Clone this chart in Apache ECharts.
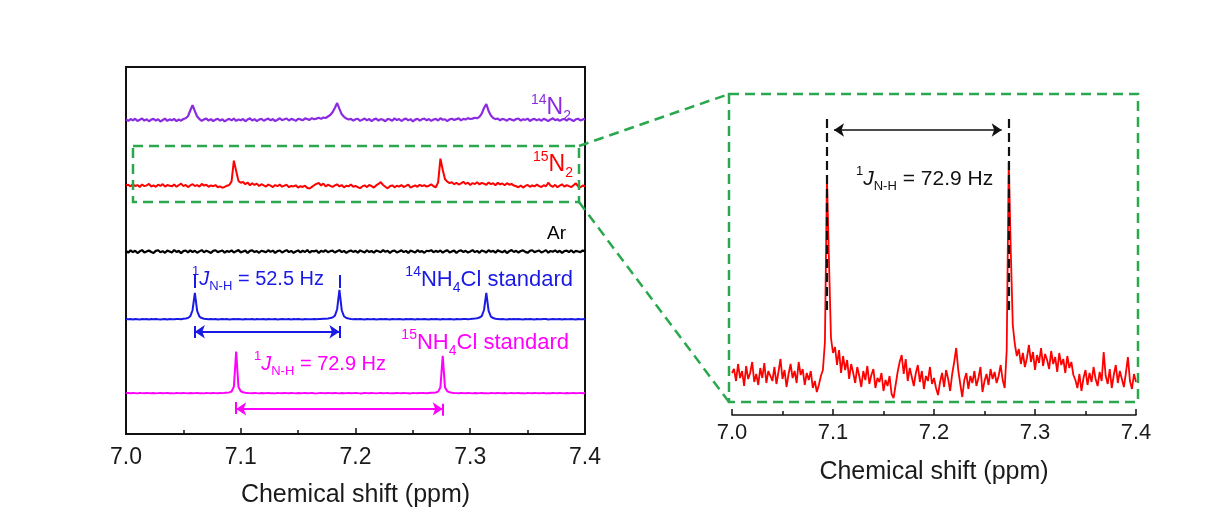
<!DOCTYPE html>
<html>
<head>
<meta charset="utf-8">
<script src="https://cdn.jsdelivr.net/npm/echarts@6/dist/echarts.min.js"></script>
<style>
  html, body { margin: 0; padding: 0; background: #ffffff; }
  #chart { width: 1206px; height: 515px; }
</style>
</head>
<body>
<div id="chart"></div>
<script>
// ---- axis ticks (chemical shift, ppm) ----
const shiftTicks = [7.0, 7.1, 7.2, 7.3, 7.4];
const ppmStep = 0.002;           // spacing of the stored spectrum points

// ---- 1H NMR traces, one value per ppmStep from 7.000 to 7.400 ppm (a.u.) ----
const spec14N2 = [
  4, -6, 8, -3, 10, -8, 2, 12, -5, 6,
  -10, 3, 9, -4, 7, -12, 0, 11, -7, 5,
  -2, 9, -9, 4, -5, 8, 14, 30, 75, 118,
  70, 28, 8, -6, 5, 11, -4, 7, -9, 3,
  10, -5, 6, -11, 2, 9, -3, 12, -7, 4,
  -2, 8, -10, 5, 13, -4, 7, -8, 3, 10,
  -6, 4, 11, -3, 8, -9, 2, 14, -1, 6,
  12, -4, 9, 3, -7, 10, 5, -2, 13, 7,
  1, 15, 6, 11, 18, 9, 20, 16, 28, 40,
  62, 95, 134, 88, 45, 25, 12, 4, 9, -5,
  6, 10, -7, 3, 12, -2, 8, -9, 5, 11,
  -4, 7, 2, -10, 9, 4, -6, 13, 0, 8,
  -8, 5, 11, -3, 7, -11, 3, 10, -5, 6,
  12, -2, 8, -7, 4, 9, -4, 14, 2, 6,
  -9, 5, 10, 1, 7, 13, -3, 9, 4, 15,
  8, 11, 18, 14, 25, 50, 95, 126, 72, 35,
  16, 7, 12, -2, 9, 4, -6, 10, 3, -4,
  8, 12, -5, 6, 1, 11, -8, 4, 9, -3,
  7, -6, 10, 2, -9, 5, 13, -1, 6, -7,
  4, 9, -4, 11, 2, -8, 6, 10, -3, 5,
  7
];

const spec15N2 = [
  27, 31, 19, 36, 22, 29, 14, 34, 21, 27,
  38, 18, 26, 15, 32, 22, 37, 17, 29, 24,
  19, 33, 16, 28, 41, 21, 30, 13, 26, 36,
  22, 29, 17, 38, 25, 31, 15, 27, 20, 29,
  12, 19, 8, 15, 24, 30, 58, 222, 140, 62,
  47, 53, 35, 50, 27, 44, 30, 40, 21, 36,
  27, 17, 33, 24, 13, 29, 20, 34, 16, 25,
  31, 12, 22, 18, 27, 9, 20, 14, 24, 6,
  2, 15, 28, 38, 45, 26, 41, 19, 32, 23,
  14, 27, 35, 18, 29, 11, 24, 19, 33, 16,
  22, 12, 5, 18, 27, 13, 30, 21, 9, 26,
  38, 52, 30, 16, 3, 20, 27, 11, 24, 17,
  29, 14, 22, 33, 8, 19, 26, 15, 31, 21,
  28, 17, 24, 35, 20, 12, 50, 238, 150, 75,
  56, 44, 51, 36, 47, 33, 42, 55, 38, 48,
  30, 45, 37, 52, 34, 46, 40, 31, 49, 36,
  43, 28, 47, 35, 41, 27, 44, 32, 38, 25,
  20, 12, 26, 9, 22, 30, 15, 27, 18, 33,
  21, 14, 28, 19, 48, 24, 16, 31, 12, 25,
  35, 17, 29, 21, 13, 27, 43, 19, 11, 26,
  18
];

const specAr = [
  5, -8, 10, -4, 7, -11, 3, 12, -6, 2,
  9, -3, -10, 6, 11, -5, 4, -9, 8, 1,
  -7, 13, -2, 6, -12, 4, 9, -6, 10, -3,
  7, -9, 2, 12, -5, 8, -1, -10, 6, 11,
  -4, 3, 9, -8, 5, -2, 10, -7, 4, 12,
  -6, 1, 8, -11, 6, 10, -3, 5, -9, 7,
  2, -5, 11, -2, 8, -10, 4, 9, -7, 3,
  12, -4, 6, -9, 1, 10, -6, 7, -3, 13,
  -8, 5, 2, 9, -11, 6, -1, 11, -5, 4,
  8, -7, 3, 12, -4, 6, -10, 2, 9, -2,
  7, -9, 10, 1, -6, 11, -3, 5, -8, 8,
  3, -5, 12, -1, 7, -10, 4, 9, -6, 2,
  10, -4, 6, -11, 8, 1, -7, 11, -2, 5,
  -9, 7, 3, 12, -5, 6, -2, 9, -8, 4,
  11, -6, 2, 8, -10, 5, 10, -3, 7, -7,
  1, 12, -4, 6, -9, 9, 3, -6, 11, -1,
  6, -8, 10, 2, -5, 8, -11, 4, 12, -3,
  7, -7, 5, 10, -2, -9, 6, 11, -4, 3,
  9, -6, 2, 12, -8, 5, -1, 10, -5, 7,
  -10, 4, 8, -3, 11, -7, 6, 1, -4, 9,
  2
];

const spec14NH4Cl = [
  2, 0, 3, -1, 2, 1, -2, 3, 0, 2,
  -1, 2, 1, 3, 0, -2, 1, 2, -1, 3,
  1, 0, 2, 3, 1, 4, 6, 10, 24, 72,
  210, 66, 22, 10, 5, 3, 1, 2, 0, 2,
  -1, 1, 3, 0, 2, -1, 1, 2, 0, 3,
  1, -2, 2, 1, 0, 3, -1, 2, 1, 0,
  2, -1, 3, 1, 0, 2, -2, 1, 3, 0,
  1, 2, -1, 2, 0, 3, 1, -1, 2, 1,
  1, 0, 2, 1, 3, 2, 4, 5, 7, 10,
  14, 28, 80, 232, 72, 24, 11, 6, 3, 1,
  2, 0, 3, 1, -1, 2, 1, 0, 2, -1,
  1, 3, 0, 2, 1, -2, 2, 1, 0, 3,
  1, -1, 2, 0, 3, 1, -1, 2, 1, 0,
  2, 1, -1, 3, 0, 2, 1, -2, 2, 1,
  0, 3, 1, -1, 2, 1, 0, 2, 3, 1,
  2, 4, 6, 9, 14, 26, 74, 210, 66, 22,
  10, 5, 3, 1, 2, 0, -1, 2, 1, 3,
  0, 2, 1, -1, 2, 0, 3, 1, -2, 2,
  1, 0, 2, 3, -1, 1, 2, 0, 1, 3,
  -1, 2, 0, 1, 3, 1, -2, 2, 0, 1,
  2
];

const spec15NH4Cl = [
  1, 2, 0, 2, 1, -1, 2, 1, 0, 2,
  1, 0, 2, -1, 1, 2, 0, 1, 2, 0,
  1, -1, 2, 1, 0, 2, 1, -1, 2, 0,
  1, 2, 0, 1, -1, 2, 1, 0, 2, 1,
  0, 2, 1, 3, 4, 7, 14, 52, 330, 50,
  16, 8, 4, 2, 1, 0, 2, 1, -1, 2,
  0, 1, 2, 0, 1, -1, 2, 1, 0, 2,
  1, 0, 2, 1, -1, 2, 0, 1, 2, 0,
  1, 2, 0, -1, 1, 2, 1, 0, 2, 1,
  0, 2, 1, -1, 2, 0, 1, 2, 0, 1,
  2, 1, -1, 0, 2, 1, 0, 2, 1, -1,
  1, 2, 0, 1, 2, -1, 1, 0, 2, 1,
  0, 2, 1, 0, -1, 2, 1, 0, 2, 1,
  1, 0, 2, 3, 4, 6, 13, 48, 295, 46,
  15, 8, 4, 2, 1, 0, 2, 1, 0, 2,
  1, -1, 2, 0, 1, 2, 0, 1, -1, 2,
  1, 0, 2, 1, 0, 2, -1, 1, 2, 0,
  1, 2, 0, 1, -1, 2, 1, 0, 2, 1,
  0, 1, 2, -1, 1, 0, 2, 1, 0, 2,
  1, -1, 2, 0, 1, 2, 0, 1, 2, 0,
  1
];

// ---- peak positions (ppm) used by the coupling annotations ----
const peaks14NH4Cl = [7.060, 7.186, 7.314];
const peaks15NH4Cl = [7.096, 7.276];
const peaks15N2 = [7.094, 7.274];
const couplingLabels = ['52.5 Hz', '72.9 Hz'];

// ---- layout ----
const FONT = "'Liberation Sans', Arial, Helvetica, sans-serif";
const C = {
  n14N2: '#8a2be2', n15N2: '#ff0000', ar: '#000000',
  nh14: '#1a1ae6', nh15: '#ff00ff', green: '#2aa84e', axis: '#111111'
};
const LEFT = { left: 126, top: 67, width: 459, height: 367 };
const RIGHT = { left: 732, top: 94, width: 404, height: 321 };
const leftRange = [0, 2900];     // stacked panel, a.u.
const rightRange = [-15, 306];   // enlarged 15N2 trace, a.u.
// vertical stacking offsets in the left panel (a.u.)
const stackOffset = { n14N2: 2481, n15N2: 1938, ar: 1441, nh14: 906, nh15: 322 };

const ppmAt = i => +(shiftTicks[0] + i * ppmStep).toFixed(3);
const toSeriesData = (arr, off) => arr.map((v, i) => [ppmAt(i), v + off]);

function traceSeries(name, arr, off, color, grid, width) {
  return {
    name, type: 'line', xAxisIndex: grid, yAxisIndex: grid,
    data: toSeriesData(arr, off), showSymbol: false, silent: true,
    lineStyle: { color, width }, z: 3
  };
}

function xAxisFor(grid, labelSize, nameSize, nameGap, labelMargin, lineW) {
  return {
    gridIndex: grid, type: 'value',
    min: shiftTicks[0], max: shiftTicks[shiftTicks.length - 1], interval: 0.1,
    axisLine: { show: true, onZero: false, lineStyle: { color: C.axis, width: lineW } },
    axisTick: { show: true, inside: true, length: 6, lineStyle: { color: C.axis, width: 1.5 } },
    minorTick: { show: true, splitNumber: 2, length: 4, lineStyle: { color: C.axis, width: 1.5 } },
    splitLine: { show: false },
    axisLabel: {
      color: '#1a1a1a', fontSize: labelSize, fontFamily: FONT, margin: labelMargin,
      formatter: v => v.toFixed(1)
    },
    name: 'Chemical shift (ppm)', nameLocation: 'middle', nameGap,
    nameTextStyle: { color: '#1a1a1a', fontSize: nameSize, fontFamily: FONT }
  };
}

function yAxisFor(grid, range) {
  return {
    gridIndex: grid, type: 'value', min: range[0], max: range[1],
    show: false, splitLine: { show: false }
  };
}

// rich-text styles for isotope labels and coupling constants
function richStyles(color, main, small, lh) {
  return {
    m:   { fontSize: main, lineHeight: lh, fontFamily: FONT, fill: color },
    j:   { fontSize: main, lineHeight: lh, fontFamily: FONT, fill: color, fontStyle: 'italic' },
    sup: { fontSize: small, lineHeight: small, fontFamily: FONT, fill: color, verticalAlign: 'top' },
    sub: { fontSize: small, lineHeight: small, fontFamily: FONT, fill: color, verticalAlign: 'bottom' }
  };
}
function richText(text, x, y, align, color, main, small, lh) {
  return {
    type: 'text', x, y, silent: true, z: 20,
    style: {
      text, align, verticalAlign: 'middle', fill: color,
      fontSize: main, fontFamily: FONT,
      rich: richStyles(color, main, small, lh)
    }
  };
}

// annotation segments drawn through the axes of each panel
function segLines(grid, color, width, lines, symbol, dash) {
  return {
    type: 'line', xAxisIndex: grid, yAxisIndex: grid, data: [], z: 6, silent: true,
    markLine: {
      silent: true, animation: false,
      symbol: symbol, symbolSize: 10,
      label: { show: false },
      lineStyle: { color, width, type: dash || 'solid' },
      emphasis: { disabled: true },
      data: lines.map(l => [{ coord: [l[0], l[1]] }, { coord: [l[2], l[3]] }])
    }
  };
}

const base14 = stackOffset.nh14, base15 = stackOffset.nh15;
const blueBars = [
  [peaks14NH4Cl[0], base14 + 248, peaks14NH4Cl[0], base14 + 350],
  [peaks14NH4Cl[1], base14 + 248, peaks14NH4Cl[1], base14 + 350],
  [peaks14NH4Cl[0], base14 - 147, peaks14NH4Cl[0], base14 - 53],
  [peaks14NH4Cl[1], base14 - 147, peaks14NH4Cl[1], base14 - 53]
];
const blueArrow = [[peaks14NH4Cl[0], base14 - 98, peaks14NH4Cl[1], base14 - 98]];
const pinkBars = [
  [peaks15NH4Cl[0], base15 - 164, peaks15NH4Cl[0], base15 - 69],
  [peaks15NH4Cl[1], base15 - 178, peaks15NH4Cl[1], base15 - 83]
];
const pinkArrow = [[peaks15NH4Cl[0], base15 - 124, peaks15NH4Cl[1], base15 - 124]];
const blackDash = peaks15N2.map(p => [p, 90, p, 281]);
const blackArrow = [[peaks15N2[0] + 0.007, 270, peaks15N2[1] - 0.007, 270]];

const chart = echarts.init(document.getElementById('chart'), null, { renderer: 'canvas' });

const dash = [10, 6];
const greenLine = (x1, y1, x2, y2) => ({
  type: 'line', silent: true, z: 15,
  shape: { x1, y1, x2, y2 },
  style: { stroke: C.green, lineWidth: 2.5, lineDash: dash }
});

chart.setOption({
  animation: false,
  backgroundColor: '#ffffff',
  grid: [
    Object.assign({ show: true, borderColor: '#111', borderWidth: 2, backgroundColor: 'transparent' }, LEFT),
    Object.assign({ show: false }, RIGHT)
  ],
  xAxis: [xAxisFor(0, 23, 25, 49, 12, 2), xAxisFor(1, 22, 25, 45, 7, 1.5)],
  yAxis: [yAxisFor(0, leftRange), yAxisFor(1, rightRange)],
  series: [
    traceSeries('14N2', spec14N2, stackOffset.n14N2, C.n14N2, 0, 2.2),
    traceSeries('15N2', spec15N2, stackOffset.n15N2, C.n15N2, 0, 2),
    traceSeries('Ar', specAr, stackOffset.ar, C.ar, 0, 2.2),
    traceSeries('14NH4Cl standard', spec14NH4Cl, stackOffset.nh14, C.nh14, 0, 2),
    traceSeries('15NH4Cl standard', spec15NH4Cl, stackOffset.nh15, C.nh15, 0, 2),
    traceSeries('15N2 enlarged', spec15N2, 0, C.n15N2, 1, 1.8),
    segLines(0, C.nh14, 2, blueBars, 'none'),
    segLines(0, C.nh14, 2, blueArrow, ['arrow', 'arrow']),
    segLines(0, C.nh15, 2, pinkBars, 'none'),
    segLines(0, C.nh15, 2, pinkArrow, ['arrow', 'arrow']),
    segLines(1, '#111', 2.2, blackDash, 'none', [9, 5]),
    segLines(1, '#111', 1.6, blackArrow, ['arrow', 'arrow'])
  ],
  graphic: [
    // enlarged-region frame and its connectors
    { type: 'rect', silent: true, z: 15, shape: { x: 133, y: 146, width: 446, height: 56 },
      style: { fill: 'none', stroke: C.green, lineWidth: 2.5, lineDash: dash } },
    { type: 'rect', silent: true, z: 15, shape: { x: 729, y: 94, width: 409, height: 308 },
      style: { fill: 'none', stroke: C.green, lineWidth: 2.5, lineDash: dash } },
    greenLine(579, 146, 729, 94),
    greenLine(579, 202, 729, 402),
    // trace labels
    richText('{sup|14}{m|N}{sub|2}', 571, 108, 'right', C.n14N2, 23, 14, 30),
    richText('{sup|15}{m|N}{sub|2}', 573, 165, 'right', C.n15N2, 23, 14, 30),
    richText('{m|Ar}', 566, 234, 'right', C.ar, 19, 12, 24),
    richText('{sup|14}{m|NH}{sub|4}{m|Cl standard}', 573, 280, 'right', C.nh14, 22, 14, 30),
    richText('{sup|15}{m|NH}{sub|4}{m|Cl standard}', 569, 343, 'right', C.nh15, 22, 14, 30),
    // coupling constants
    richText('{sup|1}{j|J}{sub|N-H}{m| = ' + couplingLabels[0] + '}', 192, 279, 'left', C.nh14, 20, 13, 28),
    richText('{sup|1}{j|J}{sub|N-H}{m| = ' + couplingLabels[1] + '}', 254, 364, 'left', C.nh15, 20, 13, 28),
    richText('{sup|1}{j|J}{sub|N-H}{m| = ' + couplingLabels[1] + '}', 856, 179, 'left', '#111', 21, 13, 28)
  ]
});
</script>
</body>
</html>
